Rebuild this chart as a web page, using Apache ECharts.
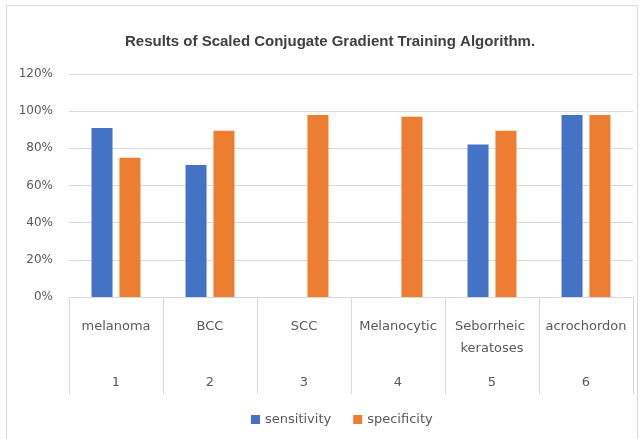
<!DOCTYPE html>
<html>
<head>
<meta charset="utf-8">
<script src="https://cdn.jsdelivr.net/npm/echarts@6/dist/echarts.min.js"></script>
<style>
  html, body { margin: 0; padding: 0; background: #fff; }
  #chart { width: 642px; height: 439px; }
</style>
</head>
<body>
<div id="chart"></div>
<script>
// data
var categories = ['melanoma', 'BCC', 'SCC', 'Melanocytic', 'Seborrheic keratoses', 'acrochordon'];
var groupNumbers = ['1', '2', '3', '4', '5', '6'];
var sensitivity = [91, 71, 0, 0, 82, 98];
var specificity = [75, 89.5, 98, 97, 89.5, 98];
var yTicks = [0, 20, 40, 60, 80, 100, 120];

var chart = echarts.init(document.getElementById('chart'));
var labelColor = '#595959';
var lineColor = '#d9d9d9';

chart.setOption({
  animation: false,
  textStyle: { fontFamily: 'DejaVu Sans' },
  title: {
    text: 'Results of Scaled Conjugate Gradient Training Algorithm.',
    left: 120,
    top: 29,
    textStyle: {
      fontFamily: 'Liberation Sans',
      fontSize: 15,
      fontWeight: 'bold',
      color: '#404040'
    }
  },
  graphic: [{
    type: 'rect',
    shape: { x: 6.5, y: 5.5, width: 631, height: 440 },
    style: { fill: 'none', stroke: '#d9d9d9', lineWidth: 1 },
    silent: true
  }],
  legend: {
    bottom: 8,
    left: 246,
    itemWidth: 9,
    itemHeight: 9,
    itemGap: 22,
    icon: 'rect',
    textStyle: { color: labelColor, fontSize: 13 }
  },
  grid: { left: 69, right: 9, top: 74, bottom: 142 },
  xAxis: [{
    type: 'category',
    data: categories,
    axisLine: { lineStyle: { color: lineColor } },
    axisTick: { show: true, length: 97, interval: 0, lineStyle: { color: lineColor } },
    axisLabel: {
      interval: 0,
      margin: 19,
      color: labelColor,
      fontSize: 13,
      lineHeight: 22,
      width: 92,
      overflow: 'break'
    }
  }, {
    type: 'category',
    position: 'bottom',
    data: groupNumbers,
    axisLine: { show: false },
    axisTick: { show: false },
    axisLabel: { interval: 0, margin: 79, color: labelColor, fontSize: 13 }
  }],
  yAxis: {
    type: 'value',
    min: 0,
    max: yTicks[yTicks.length - 1],
    interval: yTicks[1] - yTicks[0],
    axisLine: { show: false },
    axisTick: { show: false },
    splitLine: { lineStyle: { color: lineColor } },
    axisLabel: { formatter: '{value}%', color: labelColor, fontSize: 12, margin: 16 }
  },
  series: [{
    name: 'sensitivity',
    type: 'bar',
    data: sensitivity,
    barWidth: 21,
    barGap: '33%',
    itemStyle: { color: '#4472C4' }
  }, {
    name: 'specificity',
    type: 'bar',
    data: specificity,
    barWidth: 21,
    itemStyle: { color: '#ED7D31' }
  }]
});
</script>
</body>
</html>
